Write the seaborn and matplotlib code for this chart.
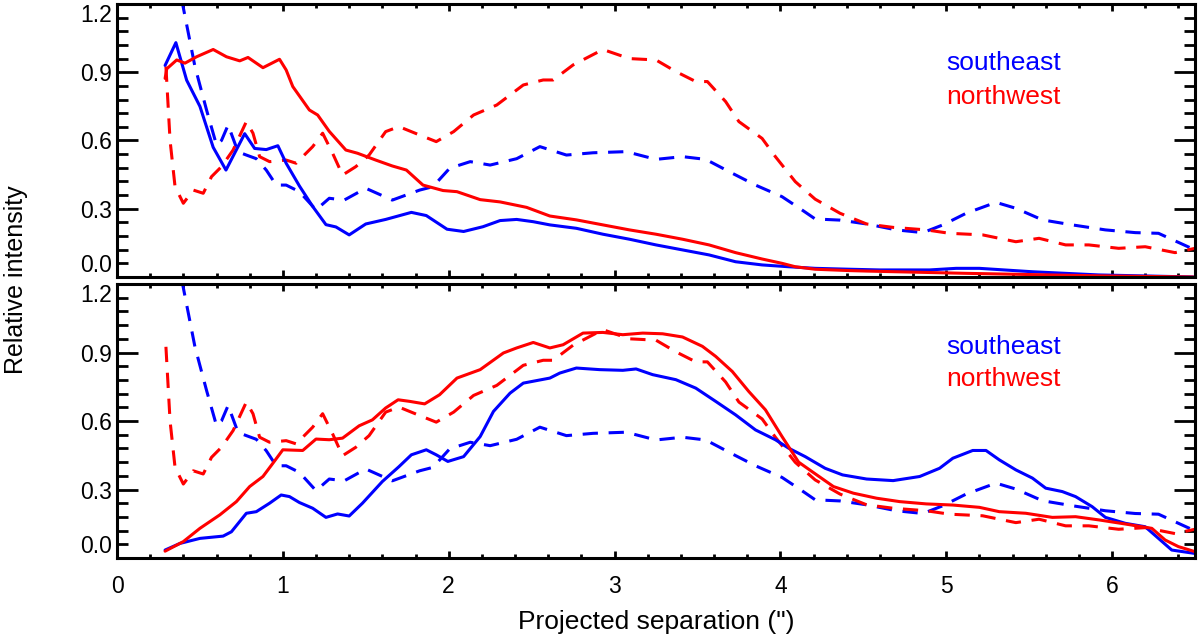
import numpy as np
import pandas as pd
import seaborn as sns
import matplotlib.pyplot as plt
from matplotlib.ticker import MultipleLocator

sns.set_style("ticks")
plt.rcParams['font.family'] = ['Liberation Sans', 'DejaVu Sans']
plt.rcParams['text.color'] = 'black'
plt.rcParams['axes.edgecolor'] = 'black'
plt.rcParams['xtick.color'] = 'black'
plt.rcParams['ytick.color'] = 'black'
plt.rcParams['axes.labelcolor'] = 'black'

# dashed profiles (same in both panels)
se_dash_x = [0.30, 0.39, 0.47, 0.54, 0.60, 0.63, 0.67, 0.73, 0.78, 0.84, 0.90, 0.96, 1.02, 1.10,
             1.20, 1.28, 1.37, 1.50, 1.66, 1.825, 1.905, 2.006, 2.13, 2.25, 2.41, 2.55, 2.71,
             2.87, 3.07, 3.25, 3.41, 3.55, 3.71, 3.85, 4.01, 4.13, 4.21, 4.36, 4.52, 4.70, 4.86,
             4.98, 5.12, 5.30, 5.42, 5.58, 5.76, 5.96, 6.14, 6.28, 6.50]
se_dash_y = [1.55, 1.22, 0.925, 0.734, 0.58, 0.60, 0.668, 0.55, 0.536, 0.52, 0.47, 0.404, 0.404,
             0.375, 0.295, 0.346, 0.338, 0.39, 0.338, 0.382, 0.397, 0.478, 0.507, 0.492, 0.52,
             0.573, 0.536, 0.546, 0.551, 0.517, 0.529, 0.517, 0.456, 0.404, 0.353, 0.295, 0.255,
             0.25, 0.233, 0.207, 0.195, 0.229, 0.28, 0.328, 0.302, 0.251, 0.229, 0.207, 0.195,
             0.192, 0.119]

nw_dash_x = [0.295, 0.32, 0.35, 0.40, 0.46, 0.52, 0.57, 0.63, 0.70, 0.78, 0.82, 0.86, 0.92, 1.02,
             1.08, 1.18, 1.24, 1.30, 1.36, 1.44, 1.52, 1.62, 1.70, 1.825, 1.925, 2.03, 2.15,
             2.29, 2.45, 2.57, 2.63, 2.75, 2.93, 3.09, 3.25, 3.37, 3.49, 3.56, 3.67, 3.75, 3.89,
             3.97, 4.09, 4.21, 4.36, 4.52, 4.68, 4.88, 5.02, 5.22, 5.42, 5.56, 5.72, 5.86, 6.04,
             6.20, 6.38, 6.50]
nw_dash_y = [0.925, 0.60, 0.397, 0.324, 0.382, 0.368, 0.441, 0.485, 0.558, 0.683, 0.632, 0.529,
             0.507, 0.514, 0.50, 0.573, 0.632, 0.544, 0.448, 0.485, 0.536, 0.639, 0.661, 0.624,
             0.595, 0.639, 0.712, 0.756, 0.844, 0.866, 0.866, 0.932, 1.0, 0.96, 0.954, 0.903,
             0.859, 0.859, 0.771, 0.683, 0.609, 0.529, 0.419, 0.342, 0.28, 0.233, 0.218, 0.207,
             0.192, 0.185, 0.155, 0.17, 0.141, 0.141, 0.126, 0.133, 0.107, 0.126]

# solid profiles, top panel
se_top_x = [0.29, 0.355, 0.42, 0.50, 0.58, 0.657, 0.77, 0.83, 0.90, 0.97, 1.02, 1.10, 1.18, 1.26,
            1.32, 1.40, 1.50, 1.62, 1.775, 1.865, 1.99, 2.09, 2.207, 2.31, 2.41, 2.51, 2.61,
            2.77, 2.93, 3.09, 3.25, 3.41, 3.57, 3.73, 3.89, 4.05, 4.21, 4.42, 4.60, 4.90, 5.06,
            5.20, 5.52, 5.92, 6.49]
se_top_y = [0.93, 1.03, 0.865, 0.75, 0.57, 0.47, 0.63, 0.565, 0.56, 0.577, 0.50, 0.40, 0.31,
            0.23, 0.22, 0.185, 0.233, 0.253, 0.284, 0.27, 0.21, 0.20, 0.221, 0.248, 0.253,
            0.243, 0.229, 0.214, 0.188, 0.166, 0.141, 0.119, 0.097, 0.067, 0.053, 0.045, 0.038,
            0.034, 0.031, 0.031, 0.038, 0.038, 0.023, 0.009, 0.0]

nw_top_x = [0.29, 0.30, 0.36, 0.41, 0.48, 0.58, 0.66, 0.74, 0.79, 0.88, 0.98, 1.02, 1.06, 1.16,
            1.21, 1.28, 1.38, 1.45, 1.56, 1.66, 1.745, 1.845, 1.966, 2.05, 2.19, 2.31, 2.47,
            2.61, 2.77, 2.93, 3.09, 3.25, 3.41, 3.57, 3.73, 3.89, 4.01, 4.09, 4.21, 4.42, 4.52,
            5.12, 5.92, 6.49]
nw_top_y = [0.873, 0.915, 0.954, 0.94, 0.968, 1.0, 0.968, 0.95, 0.965, 0.92, 0.957, 0.91, 0.837,
            0.734, 0.712, 0.64, 0.558, 0.544, 0.514, 0.488, 0.47, 0.404, 0.38, 0.375, 0.34,
            0.33, 0.306, 0.268, 0.251, 0.229, 0.207, 0.188, 0.166, 0.141, 0.107, 0.079, 0.06,
            0.045, 0.034, 0.028, 0.026, 0.016, 0.005, 0.0]

# solid profiles, bottom panel
se_bot_x = [0.29, 0.38, 0.50, 0.64, 0.69, 0.78, 0.84, 0.92, 0.99, 1.04, 1.10, 1.18, 1.26, 1.33,
            1.40, 1.48, 1.60, 1.70, 1.775, 1.865, 1.925, 1.995, 2.09, 2.19, 2.27, 2.37, 2.45,
            2.61, 2.67, 2.77, 2.91, 3.05, 3.13, 3.23, 3.37, 3.49, 3.61, 3.73, 3.85, 3.97, 4.05,
            4.15, 4.27, 4.375, 4.52, 4.68, 4.84, 4.96, 5.04, 5.16, 5.24, 5.32, 5.42, 5.52, 5.60,
            5.70, 5.78, 5.88, 5.96, 6.08, 6.20, 6.28, 6.36, 6.50]
se_bot_y = [0.035, 0.064, 0.086, 0.096, 0.115, 0.196, 0.203, 0.24, 0.276, 0.269, 0.243, 0.218,
            0.178, 0.193, 0.184, 0.24, 0.335, 0.40, 0.452, 0.474, 0.452, 0.423, 0.444, 0.532,
            0.642, 0.722, 0.766, 0.788, 0.81, 0.832, 0.825, 0.822, 0.828, 0.803, 0.781, 0.744,
            0.686, 0.627, 0.561, 0.518, 0.481, 0.444, 0.393, 0.364, 0.346, 0.339, 0.357, 0.393,
            0.437, 0.471, 0.471, 0.43, 0.386, 0.35, 0.306, 0.291, 0.269, 0.225, 0.178, 0.152,
            0.137, 0.086, 0.035, 0.02]

nw_bot_x = [0.29, 0.40, 0.50, 0.62, 0.72, 0.80, 0.88, 0.94, 1.00, 1.12, 1.20, 1.28, 1.36, 1.46,
            1.54, 1.62, 1.695, 1.765, 1.855, 1.945, 2.05, 2.19, 2.33, 2.41, 2.51, 2.61, 2.69,
            2.81, 2.93, 3.05, 3.17, 3.29, 3.41, 3.53, 3.61, 3.71, 3.81, 3.91, 4.01, 4.11, 4.19,
            4.32, 4.44, 4.58, 4.72, 4.88, 5.04, 5.20, 5.32, 5.48, 5.64, 5.78, 5.92, 6.08, 6.24,
            6.32, 6.40, 6.50]
nw_bot_y = [0.03, 0.072, 0.13, 0.189, 0.247, 0.313, 0.357, 0.415, 0.474, 0.471, 0.521, 0.518,
            0.525, 0.579, 0.605, 0.657, 0.693, 0.686, 0.675, 0.715, 0.788, 0.825, 0.898, 0.92,
            0.944, 0.92, 0.934, 0.985, 0.988, 0.978, 0.985, 0.982, 0.968, 0.927, 0.883, 0.817,
            0.729, 0.649, 0.532, 0.42, 0.379, 0.313, 0.284, 0.262, 0.247, 0.237, 0.232, 0.222,
            0.203, 0.196, 0.178, 0.181, 0.167, 0.149, 0.13, 0.079, 0.05, 0.028]

panels = [
    [(se_top_x, se_top_y), (nw_top_x, nw_top_y)],
    [(se_bot_x, se_bot_y), (nw_bot_x, nw_bot_y)],
]
text_y = [(0.94, 0.79), (0.925, 0.785)]

fig = plt.figure(figsize=(12, 6.44), dpi=100)
ax_top = fig.add_axes([0.0975, 0.5699, 0.8983, 0.4239])
ax_bot = fig.add_axes([0.0975, 0.1335, 0.8983, 0.4255])

for i, ax in enumerate([ax_top, ax_bot]):
    (sx, sy), (nx, ny) = panels[i]
    sns.lineplot(x=se_dash_x, y=se_dash_y, ax=ax, color='#0000ff', lw=2.2,
                 estimator=None, dashes=False, linestyle=(0, (5, 3.5)))
    sns.lineplot(x=nw_dash_x, y=nw_dash_y, ax=ax, color='#ff0000', lw=2.2,
                 estimator=None, dashes=False, linestyle=(0, (5, 3.5)))
    sns.lineplot(x=sx, y=sy, ax=ax, color='#0000ff', lw=2.2, estimator=None)
    sns.lineplot(x=nx, y=ny, ax=ax, color='#ff0000', lw=2.2, estimator=None)

    ax.set_xlim(0, 6.5)
    ax.set_ylim(0, 1.2)
    ax.xaxis.set_major_locator(MultipleLocator(1))
    ax.xaxis.set_minor_locator(MultipleLocator(0.2))
    ax.yaxis.set_minor_locator(MultipleLocator(0.06))
    ax.set_yticks([0.0, 0.3, 0.6, 0.9, 1.2])
    ax.set_yticklabels(['0.0', '0.3', '0.6', '0.9', '1.2'], fontsize=16.5)
    labs = ax.get_yticklabels()
    labs[0].set_va('bottom')
    labs[-1].set_va('top')
    ax.tick_params(axis='both', which='both', direction='in', top=True, right=True,
                   width=2, color='black')
    ax.tick_params(axis='y', which='major', length=15)
    ax.tick_params(axis='y', which='minor', length=8)
    ax.tick_params(axis='x', which='major', length=5, labelsize=16.5, pad=12)
    ax.tick_params(axis='x', which='minor', length=3)
    for sp in ax.spines.values():
        sp.set_linewidth(2.2)
        sp.set_color('black')
    ax.set_xlabel('')
    ax.set_ylabel('')

    ax.text(5.0, text_y[i][0], 'southeast', color='#0000ff', fontsize=19, va='center', ha='left')
    ax.text(5.0, text_y[i][1], 'northwest', color='#ff0000', fontsize=19, va='center', ha='left')

ax_top.set_xticklabels([])
ax_bot.set_xlabel('Projected separation (")', fontsize=19, labelpad=9)
fig.text(0.013, 1 - 280 / 644, 'Relative intensity', rotation=90, fontsize=18,
         va='center', ha='center')

fig.savefig('out.png', dpi=100)
